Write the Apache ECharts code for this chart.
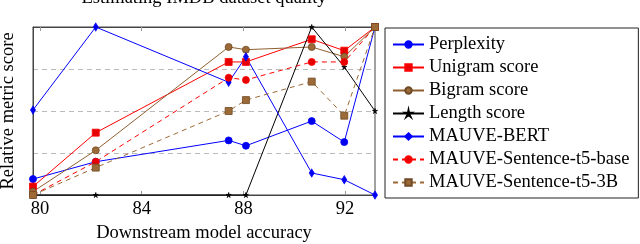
<!DOCTYPE html>
<html>
<head>
<meta charset="utf-8">
<script src="https://cdn.jsdelivr.net/npm/echarts@6/dist/echarts.min.js"></script>
<style>html,body{margin:0;padding:0;background:#fff}#c{width:640px;height:244px}</style>
</head>
<body>
<div id="c"></div>
<script>
var xValues = [79.72, 82.19, 87.42, 88.1, 90.69, 91.97, 93.18];
var xTicks = [80, 84, 88, 92];
var perplexity = [0.095, 0.198, 0.325, 0.293, 0.44, 0.315, 1.0];
var unigram = [0.05, 0.371, 0.792, 0.792, 0.927, 0.859, 1.0];
var bigram = [0.02, 0.266, 0.881, 0.865, 0.881, 0.823, 1.0];
var lengthScore = [0, 0, 0, 0, 1.0, 0.762, 0.5];
var mauveBert = [0.506, 1.0, 0.671, 0.823, 0.131, 0.091, 0];
var t5base = [0, 0.198, 0.698, 0.685, 0.792, 0.792, 1.0];
var t53b = [0, 0.163, 0.5, 0.565, 0.675, 0.472, 1.0];

function pts(ys){ return xValues.map(function(x,i){ return [x, ys[i]]; }); }
var FONT = 'Liberation Serif';
var FS = 18.5;
var starPath = 'path://M0,-10 L1.5,-3 L9.5,-3.1 L2.6,1.2 L5.9,8.1 L0,3.5 L-5.9,8.1 L-2.6,1.2 L-9.5,-3.1 L-1.5,-3 Z';

function mk(name, ys, color, fill, border, symbol, size, dashed){
  return {
    name: name, type: 'line', data: pts(ys), clip: false,
    symbol: symbol, symbolSize: size, showAllSymbol: true,
    lineStyle: {color: color, width: 1, type: dashed ? [5,4] : 'solid'},
    itemStyle: {color: fill, borderColor: border, borderWidth: 0.8},
    emphasis: {disabled: true}
  };
}

var chart = echarts.init(document.getElementById('c'), null, {renderer: 'canvas'});
chart.setOption({
  animation: false,
  title: {text: 'Estimating IMDB dataset quality', left: 204, textAlign: 'center', top: -11, padding: 0,
    textStyle: {fontFamily: FONT, fontSize: FS, fontWeight: 'normal', color: '#000'}},
  grid: {left: 33, right: 265, top: 27, bottom: 49, outerBoundsMode: 'none', containLabel: false,
    show: true, borderColor: '#444', borderWidth: 1, backgroundColor: 'transparent'},
  legend: {
    orient: 'vertical', left: 385, top: 28, padding: [7, 9, 6, 7],
    itemWidth: 31, itemHeight: 8, itemGap: 4,
    borderColor: '#222', borderWidth: 1,
    textStyle: {fontFamily: FONT, fontSize: FS, lineHeight: 18, color: '#000', padding: [0,0,0,0]},
    selectedMode: false
  },
  xAxis: [{
    type: 'value', min: 79.72, max: 93.18,
    name: 'Downstream model accuracy', nameLocation: 'middle', nameGap: 27,
    nameTextStyle: {fontFamily: FONT, fontSize: FS, color: '#000'},
    axisLine: {show: true, lineStyle: {color: '#444'}},
    axisTick: {show: true, inside: true, length: 4, customValues: xTicks, lineStyle: {color: '#999'}},
    axisLabel: {customValues: xTicks, fontFamily: FONT, fontSize: FS, color: '#000', margin: 5},
    splitLine: {show: false}
  }, {
    type: 'value', min: 79.72, max: 93.18, position: 'top',
    axisLine: {show: true, lineStyle: {color: '#444'}},
    axisTick: {show: true, inside: true, length: 4, customValues: xTicks, lineStyle: {color: '#999'}},
    axisLabel: {show: false}, splitLine: {show: false}
  }],
  yAxis: {
    type: 'value', min: 0, max: 1, interval: 0.25,
    name: 'Relative metric score', nameLocation: 'middle', nameGap: 15,
    nameTextStyle: {fontFamily: FONT, fontSize: FS, color: '#000'},
    axisLine: {show: true, lineStyle: {color: '#444'}},
    axisTick: {show: false}, axisLabel: {show: false},
    splitLine: {show: true, lineStyle: {color: '#bbb', type: [5,4], width: 1}}
  },
  series: [
    mk('Perplexity', perplexity, '#0000ff', '#0000ee', '#0000ff', 'circle', 7, false),
    mk('Unigram score', unigram, '#ff0000', '#e60000', '#ff0000', 'rect', 7, false),
    mk('Bigram score', bigram, '#8f5f30', '#9c6a36', '#6e4a26', 'circle', 7, false),
    mk('Length score', lengthScore, '#000000', '#000', '#000', starPath, 5, false),
    mk('MAUVE-BERT', mauveBert, '#0000ff', '#0000ee', '#0000ff', 'diamond', [5, 8], false),
    mk('MAUVE-Sentence-t5-base', t5base, '#ff0000', '#e60000', '#ff0000', 'circle', 7, true),
    mk('MAUVE-Sentence-t5-3B', t53b, '#9c6a36', '#9c6a36', '#6e4a26', 'rect', 7, true)
  ]
});
</script>
</body>
</html>
